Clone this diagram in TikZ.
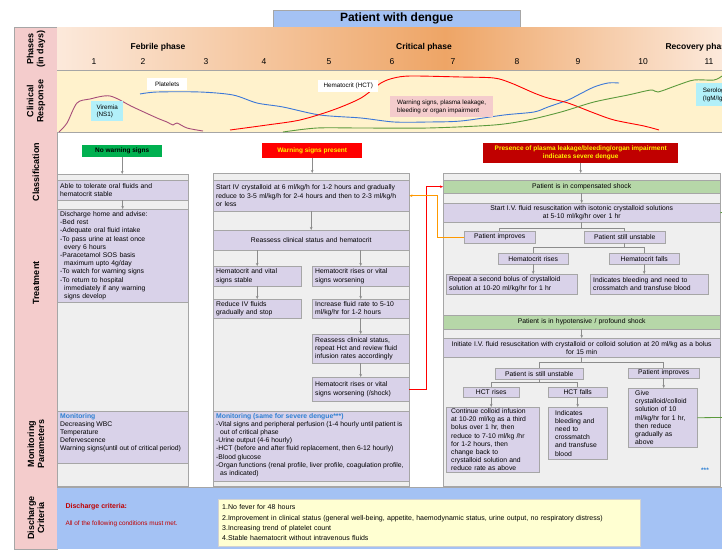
\documentclass[tikz,border=0pt]{standalone}
\usepackage{fontspec}
\setmainfont{Liberation Sans}
\usetikzlibrary{arrows.meta}

\definecolor{lav}{HTML}{D9D2E9}
\definecolor{panelg}{HTML}{EFEFEF}
\definecolor{boxln}{HTML}{A6A6A6}
\definecolor{arrg}{HTML}{8C8C8C}
\definecolor{shockg}{HTML}{B6D7A8}
\definecolor{titleb}{HTML}{A4C2F4}
\definecolor{pinkl}{HTML}{F4CCCC}
\definecolor{cyel}{HTML}{FFF2CC}
\definecolor{peachl}{HTML}{FCE9DB}
\definecolor{peachd}{HTML}{EEA566}
\definecolor{virc}{HTML}{A64D79}
\definecolor{pltc}{HTML}{3C78D8}
\definecolor{seroc}{HTML}{5B9A3C}
\definecolor{monb}{HTML}{2D7FD3}
\definecolor{dred}{HTML}{C00000}
\definecolor{nwg}{HTML}{00B050}
\definecolor{cyanl}{HTML}{B2F0F9}
\definecolor{lyel}{HTML}{FFFFD2}
\definecolor{orng}{HTML}{FF9900}

\newcommand{\bxfont}{\fontsize{6.8pt}{8.2pt}\selectfont}

\tikzset{
  box/.style={draw=boxln, fill=lav, font=\bxfont, inner xsep=3pt, inner ysep=0.5pt, anchor=north west, align=left},
  cbox/.style={box, align=center},
  sbox/.style={box, fill=shockg, align=center},
  panel/.style={draw=boxln, fill=panelg, anchor=north west, inner sep=0pt},
  arr/.style={draw=arrg, line width=0.6pt, -{Stealth[length=3pt,width=2.6pt]}},
  ln/.style={draw=arrg, line width=0.6pt},
  rowlbl/.style={rotate=90, align=center, font=\bfseries\fontsize{9pt}{10pt}\selectfont},
  clsbox/.style={anchor=north west, inner sep=0pt, align=center, font=\bfseries\fontsize{6.5pt}{7.8pt}\selectfont},
  curvelbl/.style={anchor=north west, inner xsep=2pt, inner ysep=1pt, align=left, font=\fontsize{6.3pt}{7.5pt}\selectfont},
  phfont/.style={font=\bfseries\fontsize{8.5pt}{9pt}\selectfont}
}

\begin{document}
\begin{tikzpicture}[x=1pt,y=-1pt]
\useasboundingbox (0,0) rectangle (722,549);
\clip (0,0) rectangle (722,549);

% header and bands
\node[draw=boxln, fill=titleb, anchor=north west, minimum width=247pt, minimum height=17pt, inner sep=0pt,
  font=\bfseries\fontsize{12pt}{14pt}\selectfont] (title) at (273,10) {Patient with dengue};
\draw[boxln, fill=pinkl] (14,27) rectangle (57,549);
\shade[left color=peachl, right color=peachd] (57,27) rectangle (445,70);
\shade[left color=peachd, right color=peachl] (445,27) rectangle (722,70);
\fill[cyel] (57,70) rectangle (722,132);
\draw[boxln] (57,70) -- (722,70);
\draw[boxln] (57,132) -- (722,132);
\fill[titleb] (57,487) rectangle (722,549);
\draw[boxln] (57,487) -- (722,487);

% row labels
\node[rowlbl] (lphase) at (36,49) {Phases\\(in days)};
\node[rowlbl] (lclin) at (36,101) {Clinical\\Response};
\node[rowlbl] (lclass) at (36,172) {Classification};
\node[rowlbl] (ltreat) at (36,283) {Treatment};
\node[rowlbl] (lmonit) at (36,444) {Monitoring\\Parameters};
\node[rowlbl] (ldisch) at (36,518) {Discharge\\Criteria};

% phases and days
\node[phfont] (febrile) at (158,47) {Febrile phase};
\node[phfont] (critical) at (424,47) {Critical phase};
\node[phfont, anchor=west] (recovery) at (662,47) {Recovery phase};
\foreach \d/\x in {1/94,2/143,3/206,4/264,5/329,6/392,7/453,8/517,9/578,10/643,11/709}
  \node[font=\fontsize{8.5pt}{9pt}\selectfont] (day\d) at (\x,62) {\d};

% clinical curves
\draw[virc, line width=0.9pt] plot[smooth] coordinates {(59,132) (67,123) (77,103) (90,99) (110,96) (133,107) (157,118) (167,122) (173,125) (177,123) (187,128) (203,131)};
\draw[pltc, line width=0.9pt] plot[smooth] coordinates {(140,94) (157,92) (200,92) (233,95) (257,103) (283,107) (320,115) (361,118) (394,122) (428,122) (461,121) (504,115) (534,112) (548,107) (568,100) (578,95) (594,87) (608,83) (619,83)};
\draw[red, line width=0.9pt] plot[smooth] coordinates {(230,130) (267,125) (300,120) (333,110) (361,98) (381,83) (394,78) (411,76) (461,77) (494,78) (511,83) (534,93) (548,98) (568,103) (594,113) (614,120) (644,126) (659,130)};
\draw[seroc, line width=0.9pt] plot[smooth] coordinates {(283,132) (317,128) (361,128) (428,128) (494,125) (528,120) (561,112) (594,102) (628,95) (651,90) (658,92) (678,85) (694,80) (714,80) (722,76)};
\node[curvelbl, fill=cyanl, minimum width=32pt, minimum height=20pt] (viremia) at (91,101) {Viremia\\(NS1)};
\node[curvelbl, fill=white, minimum width=40pt, minimum height=12pt] (platelets) at (147,78) {Platelets};
\node[curvelbl, fill=white, minimum width=60pt, minimum height=12pt] (hct) at (318,80) {Hematocrit (HCT)};
\node[curvelbl, fill=pinkl, minimum width=103pt, minimum height=21pt] (wsigns) at (390,96) {Warning signs, plasma leakage,\\bleeding or organ impairment};
\node[curvelbl, fill=cyanl, minimum width=40pt, minimum height=23pt] (serology) at (696,83) {Serology\\(IgM/IgG)};

% classification
\node[clsbox, fill=nwg, minimum width=80pt, minimum height=12pt] (nows) at (82,145) {No warning signs};
\node[clsbox, fill=red, text=yellow, minimum width=100pt, minimum height=15pt] (wsp) at (262,143) {Warning signs present};
\node[clsbox, fill=dred, text=yellow, minimum width=195pt, minimum height=20pt] (sev) at (483,143) {Presence of plasma leakage/bleeding/organ impairment\\indicates severe dengue};

% column panels
\node[panel, minimum width=131pt, minimum height=312pt] (pl) at (57,174) {};
\node[panel, minimum width=196pt, minimum height=313pt] (pm) at (213,173) {};
\node[panel, minimum width=277pt, minimum height=313pt] (pr) at (443,173) {};
\draw[arr] (nows.south) -- (nows.south |- pl.north);
\draw[arr] (wsp.south) -- (wsp.south |- pm.north);
\draw[arr] (sev.south) -- (sev.south |- pr.north);

% no warning signs
\node[box, text width=125pt, minimum height=20pt] (able) at (57,180) {Able to tolerate oral fluids and\\hematocrit stable};
\node[box, text width=125pt, minimum height=93pt] (disch) at (57,209) {Discharge home and advise:\\-Bed rest\\-Adequate oral fluid intake\\-To pass urine at least once\\\hspace*{4pt}every 6 hours\\-Paracetamol SOS basis\\\hspace*{4pt}maximum upto 4g/day\\-To watch for warning signs\\-To return to hospital\\\hspace*{4pt}immediately if any warning\\\hspace*{4pt}signs develop};
\draw[arr] (able.south) -- (disch.north);
\node[box, inner ysep=2pt] (monl) at (57,411) {\parbox[c][48pt][t]{125pt}{\raggedright{\color{monb}\bfseries Monitoring}\\Decreasing WBC\\Temperature\\Defervescence\\Warning signs(until out of critical period)}};

% warning signs present
\node[box, text width=190pt, minimum height=31pt] (m1) at (213,180) {Start IV crystalloid at 6 ml/kg/h for 1-2 hours and gradually\\reduce to 3-5 ml/kg/h for 2-4 hours and then to 2-3 ml/kg/h\\or less};
\node[cbox, text width=190pt, minimum height=20pt] (m2) at (213,230) {Reassess clinical status and hematocrit};
\node[box, text width=82pt, minimum height=20pt] (m3a) at (213,266) {Hematocrit and vital\\signs stable};
\node[box, text width=91pt, minimum height=20pt] (m3b) at (312,266) {Hematocrit rises or vital\\signs worsening};
\node[box, text width=82pt, minimum height=19pt] (m4a) at (213,299) {Reduce IV fluids\\gradually and stop};
\node[box, text width=91pt, minimum height=19pt] (m4b) at (312,299) {Increase fluid rate to 5-10\\ml/kg/hr for 1-2 hours};
\node[box, text width=91pt, minimum height=29pt] (m5) at (312,334) {Reassess clinical status,\\repeat Hct and review fluid\\infusion rates accordingly};
\node[box, text width=91pt, minimum height=24pt] (m6) at (312,377) {Hematocrit rises or vital\\signs worsening (/shock)};
\node[box, inner ysep=2pt] (monm) at (213,411) {\parbox[c][66pt][t]{190pt}{\raggedright{\color{monb}\bfseries Monitoring (same for severe dengue***)}\\-Vital signs and peripheral perfusion (1-4 hourly until patient is\\\hspace*{4pt}out of critical phase\\-Urine output (4-6 hourly)\\-HCT (before and after fluid replacement, then 6-12 hourly)\\-Blood glucose\\-Organ functions (renal profile, liver profile, coagulation profile,\\\hspace*{4pt}as indicated)}};
\draw[arr] (m1.south) -- (m2.north);
\draw[arr] (m3a.north |- m2.south) -- (m3a.north);
\draw[arr] (m3b.north |- m2.south) -- (m3b.north);
\draw[arr] (m3a.south) -- (m4a.north);
\draw[arr] (m3b.south) -- (m4b.north);
\draw[arr] (m4b.south) -- (m5.north);
\draw[arr] (m5.south) -- (m6.north);

% severe dengue, compensated shock
\node[sbox, text width=271pt, minimum height=13pt] (r1) at (443,180) {Patient is in compensated shock};
\node[cbox, text width=271pt, minimum height=19pt] (r2) at (443,203) {Start I.V. fluid resuscitation with isotonic crystalloid solutions\\at 5-10 ml/kg/hr over 1 hr};
\node[cbox, text width=65pt, minimum height=12pt] (r3a) at (464,231) {Patient improves};
\node[cbox, text width=75pt, minimum height=12pt] (r3b) at (584,231) {Patient still unstable};
\node[cbox, text width=64pt, minimum height=11pt] (r4a) at (498,253) {Hematocrit rises};
\node[cbox, text width=64pt, minimum height=11pt] (r4b) at (609,253) {Hematocrit falls};
\node[box, text width=125pt, minimum height=20pt] (r5a) at (446,274) {Repeat a second bolus of crystalloid\\solution at 10-20 ml/kg/hr for 1 hr};
\node[box, text width=112pt, minimum height=20pt] (r5b) at (590,274) {Indicates bleeding and need to\\crossmatch and transfuse blood};
\draw[arr] (r1.south) -- (r2.north);
\draw[ln] (r2.south) -- ++(0,6) -| (r3a.north);
\draw[ln] (r2.south) ++(0,6) -| (r3b.north);
\draw[ln] (r3b.south) -- ++(0,4) -| (r4a.north);
\draw[ln] (r3b.south) ++(0,4) -| (r4b.north);
\draw[arr] (r4a.south) -- (r4a.south |- r5a.north);
\draw[arr] (r4b.south) -- (r4b.south |- r5b.north);

% severe dengue, profound shock
\node[sbox, text width=271pt, minimum height=14pt] (r6) at (443,315) {Patient is in hypotensive / profound shock};
\node[cbox, text width=271pt, minimum height=19pt] (r7) at (443,338) {Initiate I.V. fluid resuscitation with crystalloid or colloid solution at 20 ml/kg as a bolus\\for 15 min};
\node[cbox, text width=82pt, minimum height=11pt] (r8a) at (495,368) {Patient is still unstable};
\node[cbox, text width=65pt, minimum height=10pt] (r8b) at (628,368) {Patient improves};
\node[cbox, text width=50pt, minimum height=10pt] (r9a) at (463,387) {HCT rises};
\node[cbox, text width=53pt, minimum height=10pt] (r9b) at (548,387) {HCT falls};
\node[box, inner xsep=5pt, text width=83pt, minimum height=65pt] (r10a) at (446,407) {Continue colloid infusion\\at 10-20 ml/kg as a third\\bolus over 1 hr, then\\reduce to 7-10 ml/kg /hr\\for 1-2 hours, then\\change back to\\crystalloid solution and\\reduce rate as above};
\node[box, inner xsep=7pt, text width=45pt, minimum height=52pt] (r10b) at (548,407) {Indicates\\bleeding and\\need to\\crossmatch\\and transfuse\\blood};
\node[box, inner xsep=7pt, text width=55pt, minimum height=59pt] (r10c) at (628,388) {Give\\crystalloid/colloid\\solution of 10\\ml/kg/hr for 1 hr,\\then reduce\\gradually as\\above};
\node[text=monb, font=\bfseries\fontsize{6.5pt}{7pt}\selectfont] (stars) at (705,470) {***};
\draw[arr] (r6.south) -- (r7.north);
\draw[ln] (r7.south) -- ++(0,5) -| (r8a.north);
\draw[ln] (r7.south) ++(0,5) -| (r8b.north);
\draw[ln] (r8a.south) -- ++(0,3) -| (r9a.north);
\draw[ln] (r8a.south) ++(0,3) -| (r9b.north);
\draw[arr] (r9a.south) -- (r9a.south |- r10a.north);
\draw[arr] (r9b.south) -- (r9b.south |- r10b.north);
\draw[arr] (r8b.south) -- (r8b.south |- r10c.north);

% links between columns
\draw[red, line width=0.8pt, -{Stealth[length=3pt,width=2.6pt]}] (m6.east) -- ++(17,0) |- (r1.west);
\draw[orng, line width=0.8pt, -{Stealth[length=3pt,width=2.6pt]}] (r3a.west) -- ++(-27,0) |- (m1.east);
\coordinate (out1) at (722,212.5);
\coordinate (out2) at (722,417.5);
\draw[seroc, line width=0.8pt] (r2.east) -- (out1);
\draw[seroc, line width=0.8pt] (r10c.east) -- (out2);

% discharge criteria
\node[anchor=west, text=dred, font=\bfseries\fontsize{7pt}{8pt}\selectfont] (dcrit) at (62,507) {Discharge criteria:};
\node[anchor=west, text=dred, font=\fontsize{6.4pt}{7pt}\selectfont] (dall) at (62,524) {All of the following conditions must met.};
\node[draw=boxln!50, fill=lyel, anchor=north west, inner xsep=4pt, inner ysep=1pt, text width=414pt, minimum height=47pt, align=left,
  font=\fontsize{7pt}{10.2pt}\selectfont] (dlist) at (218,499) {1.No fever for 48 hours\\2.Improvement in clinical status (general well-being, appetite, haemodynamic status, urine output, no respiratory distress)\\3.Increasing trend of platelet count\\4.Stable haematocrit without intravenous fluids};
\end{tikzpicture}
\end{document}
